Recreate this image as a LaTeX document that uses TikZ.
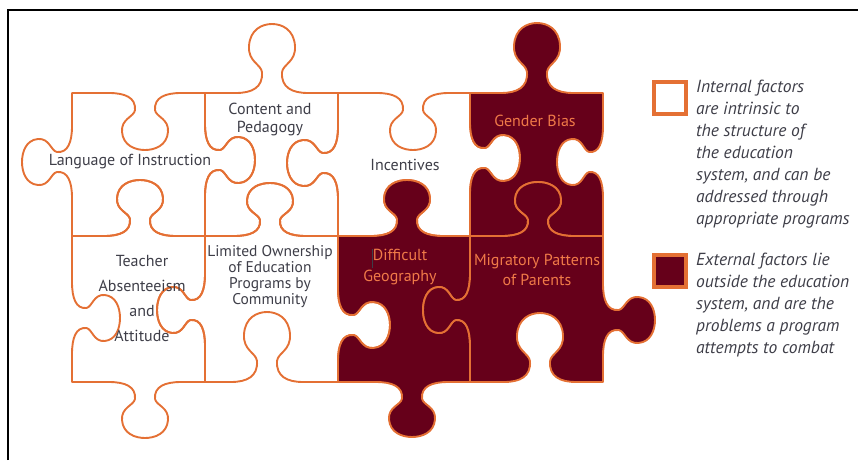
\documentclass[tikz,border=0pt]{standalone}
\usepackage{fontspec}
\setmainfont{PT Sans}
\usepackage{tikz}
\usetikzlibrary{positioning}

\definecolor{maroon}{RGB}{102,0,26}
\definecolor{rust}{RGB}{228,112,52}
\definecolor{peach}{RGB}{240,122,72}
\definecolor{txtgray}{RGB}{62,62,72}

% knob on a horizontal edge: y, centre x, signed depth, direction (+1 rightwards)
\newcommand\hk[4]{%
  -- ({#2-(#4)*36},#1)
  .. controls ({#2-(#4)*20},#1) and ({#2-(#4)*9},{#1+0.08*(#3)}) .. ({#2-(#4)*10},{#1+0.3*(#3)})
  .. controls ({#2-(#4)*11},{#1+0.42*(#3)}) and ({#2-(#4)*24},{#1+0.45*(#3)}) .. ({#2-(#4)*23},{#1+0.68*(#3)})
  .. controls ({#2-(#4)*22},{#1+0.92*(#3)}) and ({#2-(#4)*10},{#1+(#3)}) .. (#2,{#1+(#3)})
  .. controls ({#2+(#4)*10},{#1+(#3)}) and ({#2+(#4)*22},{#1+0.92*(#3)}) .. ({#2+(#4)*23},{#1+0.68*(#3)})
  .. controls ({#2+(#4)*24},{#1+0.45*(#3)}) and ({#2+(#4)*11},{#1+0.42*(#3)}) .. ({#2+(#4)*10},{#1+0.3*(#3)})
  .. controls ({#2+(#4)*9},{#1+0.08*(#3)}) and ({#2+(#4)*20},#1) .. ({#2+(#4)*36},#1)}
% same on a vertical edge: x, centre y, signed depth, direction (+1 downwards)
\newcommand\vk[4]{%
  -- (#1,{#2-(#4)*36})
  .. controls (#1,{#2-(#4)*20}) and ({#1+0.08*(#3)},{#2-(#4)*9}) .. ({#1+0.3*(#3)},{#2-(#4)*10})
  .. controls ({#1+0.42*(#3)},{#2-(#4)*11}) and ({#1+0.45*(#3)},{#2-(#4)*24}) .. ({#1+0.68*(#3)},{#2-(#4)*23})
  .. controls ({#1+0.92*(#3)},{#2-(#4)*22}) and ({#1+(#3)},{#2-(#4)*10}) .. ({#1+(#3)},#2)
  .. controls ({#1+(#3)},{#2+(#4)*10}) and ({#1+0.92*(#3)},{#2+(#4)*22}) .. ({#1+0.68*(#3)},{#2+(#4)*23})
  .. controls ({#1+0.45*(#3)},{#2+(#4)*24}) and ({#1+0.42*(#3)},{#2+(#4)*11}) .. ({#1+0.3*(#3)},{#2+(#4)*10})
  .. controls ({#1+0.08*(#3)},{#2+(#4)*9}) and (#1,{#2+(#4)*20}) .. (#1,{#2+(#4)*36})}

\begin{document}
\begin{tikzpicture}[x=1pt,y=-1pt,
    piece/.style={draw=rust,line width=1.9pt,line join=round},
    outer/.style={piece,fill=maroon},
    lbl/.style={font=\fontsize{16}{18}\selectfont,text=txtgray,align=center,inner sep=0pt},
    extlbl/.style={lbl,text=peach},
    keybox/.style={draw=rust,line width=4pt,minimum size=32pt,inner sep=0pt},
    key/.style={font=\fontsize{17.5}{22}\selectfont\itshape,text=txtgray,align=left,inner sep=0pt}]
	\useasboundingbox (0,0) rectangle (858,460);
	\draw[line width=1.5pt] (8,460) -- (8,10) -- (858,10);

	\draw[piece] (72,93) \hk{93}{145}{57}{1} -- (205,93) \vk{205}{160}{50}{1} -- (205,236) \hk{236}{140}{-56}{-1} -- (72,236) \vk{72}{162}{-50}{-1} -- cycle;
	\draw[piece] (205,93) \hk{93}{272}{-69}{1} -- (338,93) \vk{338}{163}{-51}{1} -- (338,236) \hk{236}{270}{-53}{-1} -- (205,236) \vk{205}{160}{50}{-1} -- cycle;
	\draw[piece] (338,93) \hk{93}{413}{57}{1} -- (470,93) \vk{470}{158}{50}{1} -- (470,236) \hk{236}{407}{-56}{-1} -- (338,236) \vk{338}{163}{-51}{-1} -- cycle;
	\draw[piece] (72,236) \hk{236}{140}{-56}{1} -- (205,236) \vk{205}{310}{-48}{1} -- (205,382) \hk{382}{145}{56}{-1} -- (72,382) \vk{72}{318}{48}{-1} -- cycle;
	\draw[piece] (205,236) \hk{236}{270}{-53}{1} -- (338,236) \vk{338}{325}{52}{1} -- (338,382) \hk{382}{267}{-70}{-1} -- (205,382) \vk{205}{310}{-48}{-1} -- cycle;

	\draw[outer] (470,93) \hk{93}{537}{-70}{1} -- (603,93) \vk{603}{162}{-46}{1} -- (603,236) \hk{236}{538}{-54}{-1} -- (470,236) \vk{470}{158}{50}{-1} -- cycle;
	\draw[outer] (338,236) \hk{236}{407}{-56}{1} -- (470,236) \vk{470}{310}{-47}{1} -- (470,382) \hk{382}{412}{55}{-1} -- (338,382) \vk{338}{325}{52}{-1} -- cycle;
	\draw[outer] (470,236) \hk{236}{538}{-54}{1} -- (603,236) \vk{603}{320}{52}{1} -- (603,382) \hk{382}{540}{-69}{-1} -- (470,382) \vk{470}{310}{-47}{-1} -- cycle;

	\node[lbl] (lang) at (130,162) {Language of Instruction};
	\node[lbl] (content) at (270,119) {Content and\\Pedagogy};
	\node[lbl] (incent) at (405,165) {Incentives};
	\node[extlbl] (gender) at (535,121) {Gender Bias};
	\node[lbl,font=\fontsize{16}{25}\selectfont] (teacher) at (142,298) {Teacher\\Absenteeism\\and\\Attitude};
	\node[lbl,font=\fontsize{15.5}{16}\selectfont] (owner) at (270,277) {Limited Ownership\\of Education\\Programs by\\Community};
	\node[extlbl,font=\fontsize{16}{21}\selectfont] (geo) at (400,267.5) {Difficult\\Geography};
	\node[extlbl,font=\fontsize{16}{20}\selectfont] (migr) at (537,270) {Migratory Patterns\\of Parents};
	\draw[txtgray,line width=0.6pt] (372,249) -- (372,268);

	\node[keybox,fill=white] (intbox) at (670,97.5) {};
	\node[keybox,fill=maroon] (extbox) at (670,271) {};
	\node[key,anchor=north west] (inttext) at ([xshift=8pt]intbox.north east) {Internal factors\\are intrinsic to\\the structure of\\the education\\system, and can be\\addressed through\\appropriate programs};
	\node[key,anchor=north west] (exttext) at ([xshift=8pt]extbox.north east) {External factors lie\\outside the education\\system, and are the\\problems a program\\attempts to combat};
\end{tikzpicture}
\end{document}
